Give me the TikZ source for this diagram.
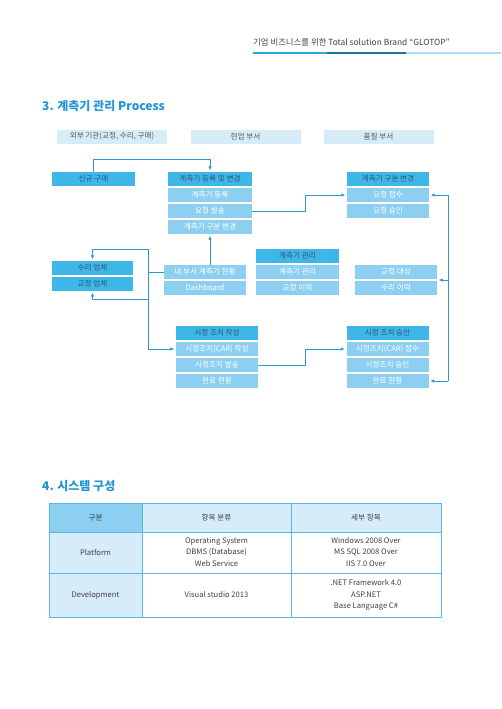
\documentclass[tikz,border=0pt]{standalone}
\usepackage{fontspec}
\setmainfont{Noto Sans CJK KR}
\usetikzlibrary{calc,arrows.meta}
\definecolor{dk}{HTML}{3FB6E8}
\definecolor{lt}{HTML}{8DCFF1}
\definecolor{ln}{HTML}{D6ECF9}
\definecolor{ac}{HTML}{2A98D4}
\definecolor{dtxt}{HTML}{2E5775}
\definecolor{ttl}{HTML}{1E96D7}
\definecolor{tb}{HTML}{55B9E4}
\definecolor{segA}{HTML}{2AA6D8}
\definecolor{segB}{HTML}{23709A}
\definecolor{segC}{HTML}{A6DDF3}
\begin{document}
\begin{tikzpicture}[x=1pt,y=-1pt,
  box/.style={inner sep=0pt, minimum height=14pt, font=\fontsize{7.6}{8}\selectfont},
  hd/.style={box, fill=dk, text=dtxt},
  li/.style={box, fill=lt, text=white},
  lane/.style={box, fill=ln, text=black!65, minimum width=110pt},
  wire/.style={draw=ac, line width=0.8pt},
  arr/.style={wire, -{Latex[length=4pt,width=3.5pt]}, shorten >=1.5pt},
  cell/.style={draw=tb, line width=0.8pt},
  ttxt/.style={font=\fontsize{7.6}{11.5}\selectfont, text=black!75, align=center},
]
\useasboundingbox[fill=white] (0,0) rectangle (501,709);

% page header
\node[anchor=west, inner sep=0pt, font=\fontsize{8.4}{9}\selectfont, text=black!75] (hdr) at (253,42) {기업 비즈니스를 위한 Total solution Brand “GLOTOP”};
\draw[segA, line width=2.5pt] (253,53) -- (327,53);
\draw[segB, line width=2.5pt] (327,53) -- (406,53);
\draw[segC, line width=2.5pt] (406,53) -- (501,53);

% section title
\node[anchor=west, inner sep=0pt, font=\fontsize{12}{14}\bfseries, text=ttl] (t3) at (42,106) {3. 계측기 관리 Process};

% lanes
\node[lane] (l1) at (112,136.5) {외부 기관(교정, 수리, 구매)};
\node[lane] (l2) at (245.5,136.5) {현업 부서};
\node[lane] (l3) at (378.5,136.5) {품질 부서};

% column A
\node[hd, minimum width=83pt] (buy) at (93.5,179) {신규 구매};

% column B
\node[hd, minimum width=84pt] (reg) at (210,179) {계측기 등록 및 변경};
\node[li, minimum width=84pt] (reg1) at (210,195) {계측기 등록};
\node[li, minimum width=84pt] (req) at (210,211) {요청 발송};
\node[li, minimum width=84pt] (chg) at (210,227) {계측기 구분 변경};

% column D
\node[hd, minimum width=82pt] (qchg) at (388,179) {계측기 구분 변경};
\node[li, minimum width=82pt] (recv) at (388,195) {요청 접수};
\node[li, minimum width=82pt] (appr) at (388,211) {요청 승인};

% middle row
\node[hd, minimum width=83pt] (mgh) at (297.5,256) {계측기 관리};
\node[li, minimum width=83pt] (mg1) at (297.5,272) {계측기 관리};
\node[li, minimum width=83pt] (mg2) at (297.5,288) {교정 이력};

\node[hd, minimum width=81pt] (rep) at (92.5,268) {수리 업체};
\node[hd, minimum width=81pt] (cal) at (92.5,284) {교정 업체};

\node[li, minimum width=82pt] (mine) at (205,272) {내 부서 계측기 현황};
\node[li, minimum width=82pt] (dash) at (205,288) {Dashboard};

\node[li, minimum width=82pt] (tgt) at (396,272) {교정 대상};
\node[li, minimum width=82pt] (rhist) at (396,288) {수리 이력};

% lower row
\node[hd, minimum width=82pt] (carw) at (217,333) {시정 조치 작성};
\node[li, minimum width=82pt] (carw1) at (217,349) {시정조치(CAR) 작성};
\node[li, minimum width=82pt] (carw2) at (217,365) {시정조치 발송};
\node[li, minimum width=82pt] (carw3) at (217,381) {완료 현황};

\node[hd, minimum width=82pt] (cara) at (387.5,333) {시정 조치 승인};
\node[li, minimum width=82pt] (cara1) at (387.5,349) {시정조치(CAR) 접수};
\node[li, minimum width=82pt] (cara2) at (387.5,365) {시정조치 승인};
\node[li, minimum width=82pt] (cara3) at (387.5,381) {완료 현황};

% connectors
\draw[arr] (buy.north) -- ++(0,-12) -| (reg.north);
\draw[arr] (req.east) -- ++(53,0) |- (recv.west);
\draw[arr] (chg.south |- mine.north) -- (chg.south);

\coordinate (rt) at (448,195);
\coordinate (rb) at (448,381);
\coordinate (rm) at ($(tgt.south east)!0.5!(rhist.north east)$);
\draw[wire] (rt) -- (rb);
\draw[arr] (rt) -- (recv.east);
\draw[arr] (rb) -- (cara3.east);
\draw[arr] (rt |- rm) -- (rm);

\coordinate (lb) at (148,272);
\coordinate (lbt) at (148,249);
\coordinate (lbb) at (148,299);
\draw[wire] (mine.west) -- (lb);
\draw[arr] (lb) -- (lbt) -| (rep.north);
\draw[arr] (lb) -- (lbb) -| (cal.south);
\draw[arr] (lbb) |- (carw1.west);

\draw[arr] (carw2.east) -- ++(47,0) |- (cara1.west);

% section 4
\node[anchor=west, inner sep=0pt, font=\fontsize{12}{14}\bfseries, text=ttl] (t4) at (42,486) {4. 시스템 구성};

\fill[lt] (49,503) rectangle (142,532);
\fill[ln] (142,503) rectangle (441,532);
\fill[ln] (49,532) rectangle (142,617);
\draw[cell] (49,503) rectangle (441,617);
\draw[cell] (142,503) -- (142,617);
\draw[cell] (291,503) -- (291,617);
\draw[cell] (49,532) -- (441,532);
\draw[cell] (49,573) -- (441,573);

\node[ttxt] (h1) at (95.5,517.5) {구분};
\node[ttxt] (h2) at (216.5,517.5) {항목 분류};
\node[ttxt] (h3) at (366,517.5) {세부 항목};
\node[ttxt] (p1) at (95.5,552.5) {Platform};
\node[ttxt] (p2) at (216.5,552) {Operating System\\DBMS (Database)\\Web Service};
\node[ttxt] (p3) at (366,552) {Windows 2008 Over\\MS SQL 2008 Over\\IIS 7.0 Over};
\node[ttxt] (d1) at (95.5,595) {Development};
\node[ttxt] (d2) at (216.5,595) {Visual studio 2013};
\node[ttxt] (d3) at (366,595) {.NET Framework 4.0\\ASP.NET\\Base Language C\#};
\end{tikzpicture}
\end{document}
